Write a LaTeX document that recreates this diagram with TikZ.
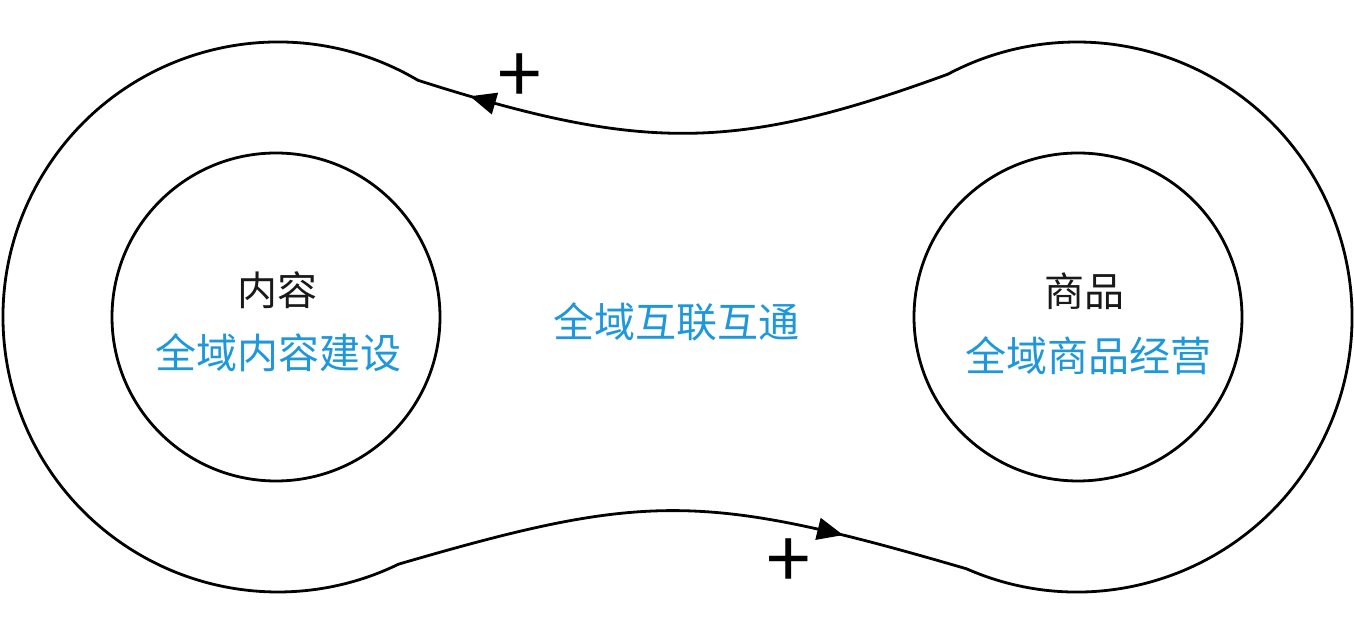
\documentclass[tikz,border=0pt]{standalone}
\usepackage{fontspec}
\setmainfont{Noto Sans CJK SC}
\usetikzlibrary{calc,arrows.meta,decorations.markings}
\definecolor{skyblue}{RGB}{30,152,218}
\definecolor{inkblack}{RGB}{25,25,25}
\tikzset{
	loopline/.style={line width=2.8pt},
	blackword/.style={text=inkblack, font=\fontsize{40}{48}\selectfont, inner sep=0pt},
	blueword/.style={text=skyblue, font=\fontsize{41}{48}\selectfont, inner sep=0pt},
	plussign/.style={font=\fontsize{80}{80}\selectfont, inner sep=0pt},
	flowtip/.style={postaction={decorate}, decoration={markings, mark=at position #1 with {\arrow{Triangle[length=26pt,width=22pt]}}}}
}
\begin{document}
\begin{tikzpicture}[x=1pt, y=1pt, line join=round, line cap=round]
	\useasboundingbox (0,0) rectangle (1354,634);
	\def\ro{275} \def\ri{328pt}
	\coordinate (L) at (278,317);
	\coordinate (R) at (1077,317);
	% where the lobes meet the two curves
	\coordinate (TL) at ($(L)+(59.4:\ro)$);
	\coordinate (BL) at ($(L)+(-64:\ro)$);
	\coordinate (TR) at ($(R)+(118:\ro)$);
	\coordinate (BR) at ($(R)+(-113.7:\ro)$);
	\draw[loopline, flowtip=0.9] (TR) .. controls (735,482) and (643,482) .. (TL);
	\draw[loopline] (TL) arc[start angle=59.4, end angle=296, radius=\ro];
	\draw[loopline, flowtip=0.78] (BL) .. controls (646,142) and (703,142) .. (BR);
	\draw[loopline] (BR) arc[start angle=-113.7, end angle=118, radius=\ro];
	% inner circles
	\node[circle, draw, loopline, minimum size=\ri, inner sep=0pt] (content) at (276,317) {};
	\node[circle, draw, loopline, minimum size=\ri, inner sep=0pt] (goods) at (1078,317) {};
	\path 
	(277,344) node[blackword] (contentname) {内容}
	(278,281) node[blueword] (contentbuild) {全域内容建设}
	(1084,343) node[blackword] (goodsname) {商品}
	(1088,278) node[blueword] (goodsrun) {全域商品经营}
	(676,312) node[blueword] (linkall) {全域互联互通}
	(520,555) node[plussign] (plustop) {+}
	(789,70) node[plussign] (plusbottom) {+};
\end{tikzpicture}
\end{document}
